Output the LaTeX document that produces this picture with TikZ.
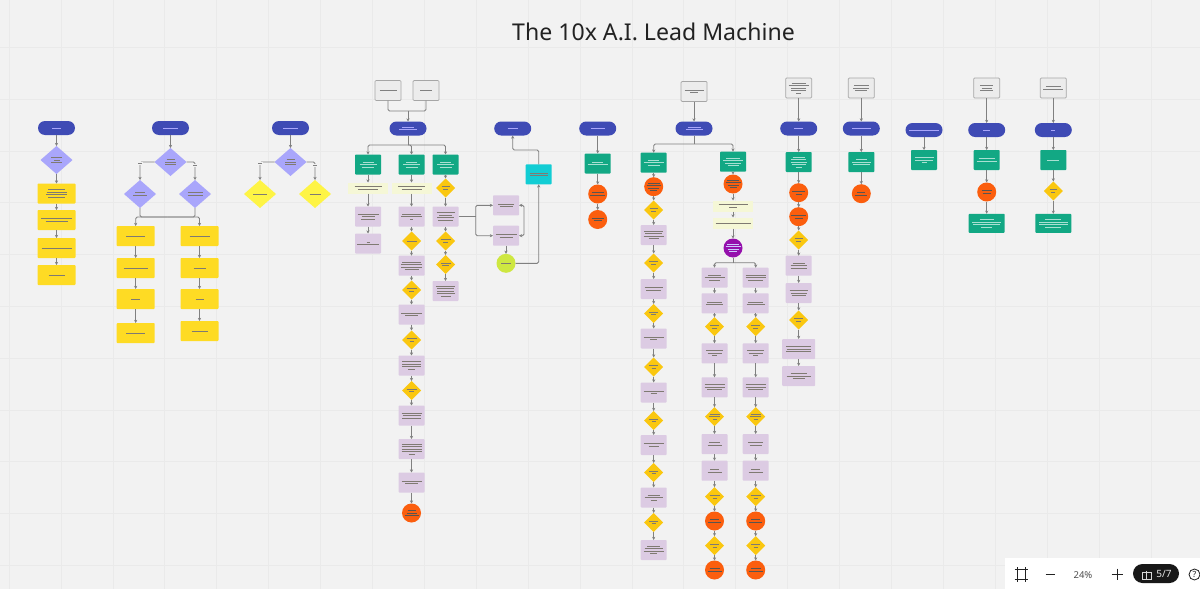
\documentclass[tikz,border=0pt]{standalone}
\usepackage{fontspec}
\setmainfont{Noto Sans}
\usetikzlibrary{shapes.geometric,arrows.meta}
\definecolor{bgc}{HTML}{F2F2F2}
\definecolor{gridc}{HTML}{EAEAEA}
\definecolor{pillc}{HTML}{3F4BB5}
\definecolor{lavc}{HTML}{A9A6FB}
\definecolor{yelc}{HTML}{FEDB24}
\definecolor{brightc}{HTML}{FEF445}
\definecolor{greenc}{HTML}{12A884}
\definecolor{purpc}{HTML}{DCCBE3}
\definecolor{orgc}{HTML}{FB5E0E}
\definecolor{ambc}{HTML}{FAC710}
\definecolor{limec}{HTML}{CEE741}
\definecolor{cyanc}{HTML}{12CDD4}
\definecolor{violc}{HTML}{9510AC}
\definecolor{paleyc}{HTML}{F5F7D6}
\definecolor{notec}{HTML}{ECECEC}
\definecolor{noteb}{HTML}{A6A6A6}
\definecolor{linec}{HTML}{808080}
\definecolor{darkg}{HTML}{7F7A72}
\definecolor{lightg}{HTML}{A8E0D2}
\definecolor{inkc}{HTML}{222222}
\newcommand\G[1]{\vbox{\offinterlineskip\hsize=0pt\foreach \w in {#1}{\hbox to 0pt{\hss\rule{\w pt}{.8pt}\hss}\vskip1.7pt}\unskip}}
\newcommand\nd[5]{\node[#2] (#1) at (#3,#4) {\G{#5}};}
\tikzset{
  x=1pt,y=-1pt,
  base/.style={inner sep=0pt,outer sep=0pt,draw=none},
  pill/.style={base,rounded rectangle sim,fill=pillc,text=lavc,minimum width=37pt,minimum height=14pt},
  rounded rectangle sim/.style={rectangle,rounded corners=7pt},
  lav/.style={base,diamond,fill=lavc,text=darkg,minimum width=32pt,minimum height=28pt},
  yelbox/.style={base,rectangle,rounded corners=.8pt,fill=yelc,text=darkg,minimum width=38pt,minimum height=20pt},
  brightd/.style={base,diamond,fill=brightc,text=darkg,minimum width=32pt,minimum height=28pt},
  greenbox/.style={base,rectangle,rounded corners=.8pt,fill=greenc,text=lightg,minimum width=26pt,minimum height=20pt},
  widegreen/.style={greenbox,minimum width=36pt,minimum height=19pt},
  purpbox/.style={base,rectangle,rounded corners=.8pt,fill=purpc,text=darkg,minimum width=26pt,minimum height=20pt},
  purpwide/.style={purpbox,minimum width=33pt},
  ambd/.style={base,diamond,fill=ambc,text=darkg,minimum width=19pt,minimum height=19pt},
  orgc1/.style={base,circle,fill=orgc,text=darkg!70!black,minimum size=19pt},
  violet/.style={base,circle,fill=violc,text=lavc!60!white,minimum size=19pt},
  limeb/.style={base,circle,fill=limec,text=darkg,minimum size=19pt},
  cyanb/.style={base,rectangle,rounded corners=.8pt,fill=cyanc,text=darkg,minimum width=26pt,minimum height=20pt},
  pale/.style={base,rectangle,fill=paleyc,text=darkg,minimum width=40pt,minimum height=11pt},
  notebox/.style={base,rectangle,rounded corners=1pt,fill=notec,draw=noteb,line width=.7pt,text=gray,minimum width=26pt,minimum height=20pt},
  tag/.style={base,fill=bgc,text=gray,minimum width=5pt,minimum height=3pt},
  plainline/.style={draw=linec,line width=.9pt,rounded corners=1.5pt},
  edge/.style={plainline,-{Stealth[length=3.2pt,width=3.2pt]}},
  bothedge/.style={plainline,{Stealth[length=3.2pt,width=3.2pt]}-{Stealth[length=3.2pt,width=3.2pt]}},
}
\begin{document}
\begin{tikzpicture}
\useasboundingbox (0,0) rectangle (1200,589);
\fill[bgc] (0,0) rectangle (1200,589);
\foreach \i in {0,...,23} \draw[gridc,line width=.5pt] ({9+51.9*\i},0) -- ({9+51.9*\i},589);
\foreach \j in {0,...,11} \draw[gridc,line width=.5pt] (0,{47.2+51.8*\j}) -- (1200,{47.2+51.8*\j});
\node[inner sep=0pt,text=inkc,font=\fontsize{23.1}{28}\selectfont] (title) at (653.5,32) {The 10x A.I. Lead Machine};

% column 1
\nd{apill}{pill}{56.5}{128}{9}
\nd{adia}{lav}{56.5}{160}{11,6,11}
\nd{ay1}{yelbox}{56.5}{193.5}{17,20,21,17}
\nd{ay2}{yelbox}{56.5}{220}{31,22}
\nd{ay3}{yelbox}{56.5}{248}{30}
\nd{ay4}{yelbox}{56.5}{275}{16}
\foreach \a/\b in {apill/adia,adia/ay1,ay1/ay2,ay2/ay3,ay3/ay4} \draw[edge] (\a) -- (\b);

% column 2
\nd{bpill}{pill}{170.5}{128}{15}
\nd{bdia}{lav}{170.5}{162}{8,11,11}
\nd{bl}{lav}{140}{194}{10,14}
\nd{br}{lav}{195}{194}{15,15}
\nd{bl1}{yelbox}{135.7}{236}{19}
\nd{bl2}{yelbox}{135.7}{268}{24}
\nd{bl3}{yelbox}{135.7}{299}{9}
\nd{bl4}{yelbox}{135.7}{333}{19}
\nd{br1}{yelbox}{199.5}{236}{20}
\nd{br2}{yelbox}{199.5}{268}{12}
\nd{br3}{yelbox}{199.5}{299}{8}
\nd{br4}{yelbox}{199.5}{331}{16}
\coordinate (bbus) at (167.6,217);
\draw[edge] (bpill) -- (bdia);
\draw[edge] (bdia.west) -| (bl.north);
\draw[edge] (bdia.east) -| (br.north);
\node[tag] (btagl) at (140,163) {\G{4}};
\node[tag] (btagr) at (195,165.5) {\G{4}};
\draw[plainline] (bl.south) |- (bbus);
\draw[plainline] (br.south) |- (bbus);
\draw[edge] (bbus) -| (bl1.north);
\draw[edge] (bbus) -| (br1.north);
\foreach \a/\b in {bl1/bl2,bl2/bl3,bl3/bl4,br1/br2,br2/br3,br3/br4} \draw[edge] (\a) -- (\b);

% column 3
\nd{cpill}{pill}{290.5}{128}{15}
\nd{cdia}{lav}{290.5}{162}{8,11,11}
\nd{cl}{brightd}{260}{194}{14}
\nd{cr}{brightd}{315}{194}{11}
\draw[edge] (cpill) -- (cdia);
\draw[edge] (cdia.west) -| (cl.north);
\draw[edge] (cdia.east) -| (cr.north);
\node[tag] (ctagl) at (260,163) {\G{4}};
\node[tag] (ctagr) at (315,165.5) {\G{4}};

% column 4
\nd{dn1}{notebox}{388}{90.5}{17}
\nd{dn2}{notebox}{426}{90.5}{12}
\nd{dpill}{pill}{408}{128.5}{12,18}
\coordinate (dmerge) at (408,111);
\draw[plainline] (dn1.south) |- (dmerge);
\draw[plainline] (dn2.south) |- (dmerge);
\draw[edge] (dmerge) -- (dpill);
\nd{dg1}{greenbox}{368}{164.5}{11,17,12}
\nd{dg2}{greenbox}{411.5}{164.5}{11,17,12}
\nd{dg3}{greenbox}{445.5}{164.5}{11,17,12}
\coordinate (dbus) at (408,145);
\draw[plainline] (dpill) -- (dbus);
\draw[edge] (dbus) -| (dg1.north);
\draw[edge] (dbus) -| (dg2.north);
\draw[edge] (dbus) -| (dg3.north);
\nd{dp1}{pale}{368}{188}{27,20}
\nd{dp2}{pale}{411.5}{188}{27,20}
\nd{da3}{ambd}{445.5}{188}{8,5}
\nd{dr1}{purpbox}{368}{216.5}{21,13,14}
\nd{dr2}{purpbox}{368}{243.5}{3,22}
\nd{dr3}{purpbox}{411.5}{216.5}{19,21,3}
\nd{da4}{ambd}{411.5}{241}{10}
\nd{dr4}{purpbox}{411.5}{265.7}{19,21,21,14}
\nd{da5}{ambd}{411.5}{290}{10,5}
\nd{dr5}{purpbox}{411.5}{314.5}{21,13}
\nd{da6}{ambd}{411.5}{340}{10,4}
\nd{dr6}{purpbox}{411.5}{365.5}{19,19,19,7}
\nd{da7}{ambd}{411.5}{390.5}{10,5}
\nd{dr7}{purpbox}{411.5}{415.5}{20,18,19}
\nd{dr8}{purpbox}{411.5}{449}{20,20,20,20,6}
\nd{dr9}{purpbox}{411.5}{482.5}{20,13}
\nd{dorg}{orgc1}{411.5}{513}{8,10,14}
\nd{de1}{purpbox}{445.5}{216.5}{18,13,17,15}
\nd{da8}{ambd}{445.5}{241}{10,5}
\nd{da9}{ambd}{445.5}{264.5}{10,7}
\nd{de2}{purpbox}{445.5}{291}{19,17,17,18,10}
\foreach \a/\b in {dg1/dp1,dp1/dr1,dr1/dr2,dg2/dp2,dp2/dr3,dr3/da4,da4/dr4,dr4/da5,da5/dr5,dr5/da6,da6/dr6,dr6/da7,da7/dr7,dr7/dr8,dr8/dr9,dr9/dorg,dg3/da3,da3/de1,de1/da8,da8/da9,da9/de2} \draw[edge] (\a) -- (\b);

% branch to cyan box
\nd{ef1}{purpbox}{506}{205.3}{16,13}
\nd{ef2}{purpbox}{506}{235.7}{21,13}
\nd{elime}{limeb}{506}{263.3}{10}
\nd{ecy}{cyanb}{538.7}{174.3}{18,18}
\nd{epill}{pill}{512.7}{128.5}{10}
\coordinate (esplit) at (475.7,216.5);
\coordinate (eloop) at (524,220);
\coordinate (eup) at (525.7,150);
\draw[plainline] (de1.east) -- (esplit);
\draw[edge] (esplit) |- (ef1.west);
\draw[edge] (esplit) |- (ef2.west);
\draw[bothedge] (ef1.east) -| (eloop) |- (ef2.east);
\draw[edge] (ef2) -- (elime);
\draw[edge] (elime.east) -| (ecy.south);
\draw[edge] (ecy.north) |- (eup) -| (epill.south);

% column 5
\nd{fpill}{pill}{597.7}{128.5}{14}
\nd{fg}{greenbox}{597.7}{163.5}{11,20}
\nd{fo1}{orgc1}{597.7}{194}{12,15}
\nd{fo2}{orgc1}{597.7}{219.5}{12,8}
\foreach \a/\b in {fpill/fg,fg/fo1,fo1/fo2} \draw[edge] (\a) -- (\b);

% column 6
\nd{gn}{notebox}{694}{91.5}{19,8}
\nd{gpill}{pill}{694}{128.5}{13,17}
\nd{gl}{greenbox}{653.7}{162.7}{11,20,12}
\nd{gr}{greenbox}{733}{161.7}{14,20,16,11}
\coordinate (gbus) at (694,144);
\draw[edge] (gn) -- (gpill);
\draw[plainline] (gpill) -- (gbus);
\draw[edge] (gbus) -| (gl.north);
\draw[edge] (gbus) -| (gr.north);
\nd{gl1}{orgc1}{653.7}{186.7}{12,14,11,7}
\nd{gl2}{ambd}{653.7}{210}{8,5}
\nd{gl3}{purpbox}{653.7}{235}{19,17,20,10}
\nd{gl4}{ambd}{653.7}{263}{9,5}
\nd{gl5}{purpbox}{653.7}{289}{18,15}
\nd{gl6}{ambd}{653.7}{313.5}{9,5}
\nd{gl7}{purpbox}{653.7}{338.5}{20,7}
\nd{gl8}{ambd}{653.7}{367}{9,4}
\nd{gl9}{purpbox}{653.7}{392.5}{20,6}
\nd{gl10}{ambd}{653.7}{420.5}{9,4}
\nd{gl11}{purpbox}{653.7}{445}{20,10}
\nd{gl12}{ambd}{653.7}{472.5}{9,4}
\nd{gl13}{purpbox}{653.7}{497.5}{12,18,6}
\nd{gl14}{ambd}{653.7}{522.5}{9,4}
\nd{gl15}{purpbox}{653.7}{550}{13,18,20,7}
\foreach \a/\b in {gl/gl1,gl1/gl2,gl2/gl3,gl3/gl4,gl4/gl5,gl5/gl6,gl6/gl7,gl7/gl8,gl8/gl9,gl9/gl10,gl10/gl11,gl11/gl12,gl12/gl13,gl13/gl14,gl14/gl15} \draw[edge] (\a) -- (\b);
\nd{gr1}{orgc1}{733}{184}{12,15,11,7}
\nd{gr2}{pale}{733}{206}{29,8}
\nd{gr3}{pale}{733}{223}{35}
\nd{gr4}{violet}{733}{248}{12,15,11,8}
\coordinate (grbus) at (733,262.7);
\foreach \a/\b in {gr/gr1,gr1/gr2,gr2/gr3,gr3/gr4} \draw[edge] (\a) -- (\b);
\draw[plainline] (gr4) -- (grbus);
\nd{ha1}{purpbox}{714.5}{277.7}{13,20,11}
\nd{ha2}{purpbox}{714.5}{303.3}{15,17}
\nd{ha3}{ambd}{714.5}{326.7}{9,5}
\nd{ha4}{purpbox}{714.5}{353.3}{17,14,5}
\nd{ha5}{purpbox}{714.5}{387.3}{20,20,15}
\nd{ha6}{ambd}{714.5}{416.7}{10,11,4}
\nd{ha7}{purpbox}{714.5}{444}{11,14}
\nd{ha8}{purpbox}{714.5}{470.7}{9,14}
\nd{ha9}{ambd}{714.5}{496.7}{10,4}
\nd{ha10}{orgc1}{714.5}{521}{9,13}
\nd{ha11}{ambd}{714.5}{545.7}{9,4}
\nd{ha12}{orgc1}{714.5}{570}{10,14}
\nd{hb1}{purpbox}{755.7}{277.7}{20,20,15}
\nd{hb2}{purpbox}{755.7}{303.3}{15,18}
\nd{hb3}{ambd}{755.7}{326.7}{9,5}
\nd{hb4}{purpbox}{755.7}{353.3}{17,14,5}
\nd{hb5}{purpbox}{755.7}{387.3}{20,20,15}
\nd{hb6}{ambd}{755.7}{416.7}{10,11,4}
\nd{hb7}{purpbox}{755.7}{444}{15,12}
\nd{hb8}{purpbox}{755.7}{470.7}{9,14}
\nd{hb9}{ambd}{755.7}{496.7}{10,4}
\nd{hb10}{orgc1}{755.7}{521}{9,13}
\nd{hb11}{ambd}{755.7}{545.7}{9,4}
\nd{hb12}{orgc1}{755.7}{570}{10,14}
\draw[edge] (grbus) -| (ha1.north);
\draw[edge] (grbus) -| (hb1.north);
\foreach \a/\b in {ha1/ha2,ha2/ha3,ha3/ha4,ha4/ha5,ha5/ha6,ha6/ha7,ha7/ha8,ha8/ha9,ha9/ha10,ha10/ha11,ha11/ha12,hb1/hb2,hb2/hb3,hb3/hb4,hb4/hb5,hb5/hb6,hb6/hb7,hb7/hb8,hb8/hb9,hb9/hb10,hb10/hb11,hb11/hb12} \draw[edge] (\a) -- (\b);

% column 7
\nd{in}{notebox}{798.7}{88}{14,20,15,15,5}
\nd{ipill}{pill}{798.7}{128.5}{9}
\nd{ig}{greenbox}{798.7}{162}{12,15,16,14,6}
\nd{io1}{orgc1}{798.7}{192.7}{13,6}
\nd{io2}{orgc1}{798.7}{216.7}{15,8}
\nd{ia1}{ambd}{798.7}{240}{8,5}
\nd{ip1}{purpbox}{798.7}{265.7}{12,16,16}
\nd{ip2}{purpbox}{798.7}{293}{18,16,14}
\nd{ia2}{ambd}{798.7}{320}{9,5}
\nd{ip3}{purpwide}{798.7}{349}{25,24,25}
\nd{ip4}{purpwide}{798.7}{376}{16,24,12}
\foreach \a/\b in {in/ipill,ipill/ig,ig/io1,io1/io2,io2/ia1,ia1/ip1,ip1/ip2,ip2/ia2,ia2/ip3,ip3/ip4} \draw[edge] (\a) -- (\b);

% column 8
\nd{jn}{notebox}{861.3}{88}{15,16,12}
\nd{jpill}{pill}{861.3}{128.5}{19}
\nd{jg}{greenbox}{861.3}{162}{11,19,17}
\nd{jo}{orgc1}{861.3}{193.7}{8,12}
\foreach \a/\b in {jn/jpill,jpill/jg,jg/jo} \draw[edge] (\a) -- (\b);

% column 9
\nd{kpill}{pill}{924}{130}{30}
\nd{kg}{greenbox}{924}{160}{19,18,5}
\draw[edge] (kpill) -- (kg);

% column 10
\nd{ln}{notebox}{986.7}{88}{13,10,13}
\nd{lpill}{pill}{986.7}{130}{7}
\nd{lg}{greenbox}{986.7}{160}{16,20}
\nd{lo}{orgc1}{986.7}{192}{10,8}
\nd{lw}{widegreen}{986.7}{223.3}{14,29,27,11}
\foreach \a/\b in {ln/lpill,lpill/lg,lg/lo,lo/lw} \draw[edge] (\a) -- (\b);

% column 11
\nd{mn}{notebox}{1053.3}{88}{15,20}
\nd{mpill}{pill}{1053.3}{130}{4}
\nd{mg}{greenbox}{1053.3}{160}{12}
\nd{md}{ambd}{1053.3}{191}{7,4}
\nd{mw}{widegreen}{1053.3}{223.3}{16,29,29,16}
\foreach \a/\b in {mn/mpill,mpill/mg,mg/md,md/mw} \draw[edge] (\a) -- (\b);

% toolbar
\fill[white] (1005,558) rectangle (1200,589);
\draw[inkc,line width=.9pt] (1014.5,569) -- (1027.5,569) (1014.5,579.5) -- (1027.5,579.5) (1017,567) -- (1017,582) (1025,567) -- (1025,582);
\draw[inkc,line width=.9pt] (1045.5,574) -- (1054.5,574);
\node[inner sep=0pt,text=inkc!80!white,font=\fontsize{9.5}{11}\selectfont] (zoomtxt) at (1083,575) {24\%};
\draw[inkc,line width=.9pt] (1111.5,574) -- (1122.5,574) (1117,568.5) -- (1117,579.5);
\fill[inkc!70!black,rounded corners=9.5pt] (1133,564) rectangle (1179,583);
\draw[white!85!black,line width=.7pt] (1142.5,572.5) rectangle (1151,579) (1142,572.5) -- (1151.5,572.5) (1146.7,570.5) -- (1146.7,579);
\node[inner sep=0pt,text=white!90!black,font=\fontsize{10}{12}\selectfont] (giftn) at (1164,574) {5/7};
\node[draw=inkc,line width=.8pt,circle,minimum size=11pt,inner sep=0pt,text=inkc,font=\fontsize{8.5}{10}\selectfont] (helpq) at (1194.5,574.5) {?};
\end{tikzpicture}
\end{document}
